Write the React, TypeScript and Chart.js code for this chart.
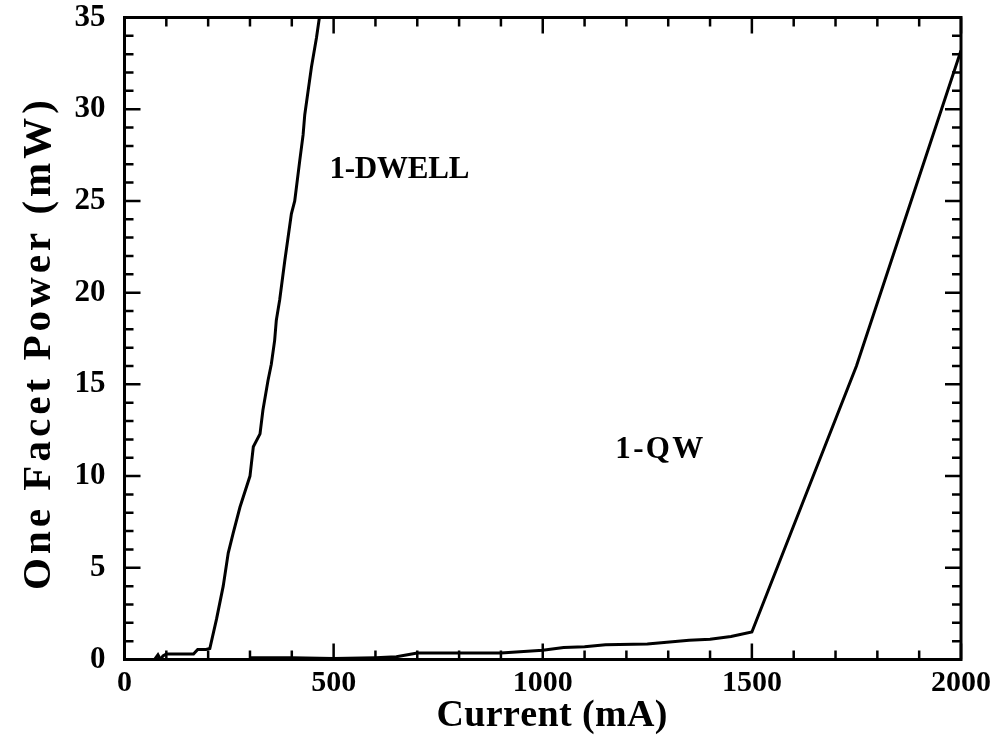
import React, { useEffect, useRef } from "react";
import { Chart, registerables } from "chart.js";

Chart.register(...registerables);

// ---- data ----
const dwellCurrent = [72, 80, 86, 92, 100, 165, 175, 195, 204, 220, 236, 248, 260, 276, 300, 308, 324, 331, 343, 351, 359, 363, 371, 383, 399, 407, 419, 427, 431, 447, 459, 466];
const dwellPower = [0, 0.25, 0, 0.2, 0.3, 0.3, 0.55, 0.55, 0.6, 2.2, 4.0, 5.8, 6.9, 8.3, 10.0, 11.6, 12.3, 13.6, 15.2, 16.1, 17.4, 18.5, 19.6, 21.7, 24.3, 25.0, 27.2, 28.6, 29.7, 32.3, 33.9, 35];

const qwCurrent = [300, 400, 500, 600, 650, 700, 800, 900, 1000, 1050, 1100, 1150, 1250, 1350, 1400, 1450, 1500, 1750, 2000];
const qwPower = [0.1, 0.1, 0.05, 0.1, 0.15, 0.35, 0.35, 0.35, 0.5, 0.65, 0.7, 0.8, 0.85, 1.05, 1.1, 1.25, 1.5, 16.0, 33.2];

const xMin = 0, xMax = 2000, xMajorStep = 500, xMinorStep = 100;
const yMin = 0, yMax = 35, yMajorStep = 5, yMinorStep = 1;

const xTitle = "Current (mA)";
const yTitle = "One Facet Power (mW)";
const seriesLabels = ["1-DWELL", "1-QW"];
const labelAnchors = [
  { x: 490, y: 26.7 },
  { x: 1171, y: 11.4 },
];

const FONT = '"Liberation Serif", "Times New Roman", serif';

// draw text centred at (0,0) of current transform, stretched to a total length by spacing letters
function spacedText(ctx: CanvasRenderingContext2D, text: string, length: number) {
  const chars = Array.from(text);
  const widths = chars.map((c) => ctx.measureText(c).width);
  const natural = widths.reduce((s, w) => s + w, 0);
  const gap = chars.length > 1 ? (length - natural) / (chars.length - 1) : 0;
  let x = -length / 2;
  ctx.textAlign = "left";
  chars.forEach((c, i) => {
    ctx.fillText(c, x, 0);
    x += widths[i] + gap;
  });
}

const framePlugin = {
  id: "frame",
  afterDraw(chart: any) {
    const { ctx, chartArea: a, scales } = chart;
    const xs = scales.x, ys = scales.y;
    ctx.save();
    ctx.strokeStyle = "#000";
    ctx.lineWidth = 3;
    ctx.strokeRect(a.left, a.top, a.right - a.left, a.bottom - a.top);
    ctx.lineWidth = 2.5;
    ctx.beginPath();
    for (let v = xMin; v <= xMax; v += xMinorStep) {
      const px = xs.getPixelForValue(v);
      const len = v % xMajorStep === 0 ? 16 : 9;
      ctx.moveTo(px, a.bottom);
      ctx.lineTo(px, a.bottom - len);
      ctx.moveTo(px, a.top);
      ctx.lineTo(px, a.top + len);
    }
    for (let v = yMin; v <= yMax; v += yMinorStep) {
      const py = ys.getPixelForValue(v);
      const len = v % yMajorStep === 0 ? 16 : 9;
      ctx.moveTo(a.left, py);
      ctx.lineTo(a.left + len, py);
      ctx.moveTo(a.right, py);
      ctx.lineTo(a.right - len, py);
    }
    ctx.stroke();

    // series labels
    ctx.fillStyle = "#000";
    ctx.font = `bold 31px ${FONT}`;
    ctx.textBaseline = "middle";
    ctx.save();
    ctx.translate(xs.getPixelForValue(labelAnchors[0].x) + 70, ys.getPixelForValue(labelAnchors[0].y));
    spacedText(ctx, seriesLabels[0], 140);
    ctx.restore();
    ctx.save();
    ctx.translate(xs.getPixelForValue(labelAnchors[1].x) + 45, ys.getPixelForValue(labelAnchors[1].y));
    spacedText(ctx, seriesLabels[1], 88);
    ctx.restore();

    // axis titles
    ctx.font = `bold 38px ${FONT}`;
    ctx.textBaseline = "middle";
    ctx.save();
    ctx.translate(552, 716);
    spacedText(ctx, xTitle, 231);
    ctx.restore();
    ctx.font = `bold 41px ${FONT}`;
    ctx.save();
    ctx.translate(39, 345);
    ctx.rotate(-Math.PI / 2);
    spacedText(ctx, yTitle, 490);
    ctx.restore();
    ctx.restore();
  },
};

export default function App() {
  const ref = useRef<HTMLCanvasElement>(null);
  useEffect(() => {
    if (!ref.current) return;
    const mk = (xs: number[], ys: number[]) => xs.map((x, i) => ({ x, y: ys[i] }));
    const chart = new Chart(ref.current, {
      type: "line",
      data: {
        datasets: [
          {
            label: seriesLabels[0],
            data: mk(dwellCurrent, dwellPower),
            borderColor: "#000",
            borderWidth: 3,
            pointRadius: 0,
            tension: 0,
            fill: false,
          },
          {
            label: seriesLabels[1],
            data: mk(qwCurrent, qwPower),
            borderColor: "#000",
            borderWidth: 3,
            pointRadius: 0,
            tension: 0,
            fill: false,
          },
        ],
      },
      options: {
        animation: false,
        responsive: false,
        events: [],
        layout: { padding: { top: 0, right: 38, left: 0, bottom: 0 } },
        plugins: { legend: { display: false }, tooltip: { enabled: false }, title: { display: false } },
        scales: {
          x: {
            type: "linear",
            min: xMin,
            max: xMax,
            border: { display: false },
            grid: { display: false, drawTicks: false },
            ticks: {
              stepSize: xMajorStep,
              color: "#000",
              padding: 6,
              maxRotation: 0,
              callback: (v: any) => String(v),
              font: { family: FONT, size: 30, weight: "bold" },
            },
            afterFit: (s: any) => {
              s.height = 736 - 659.5;
              s.paddingLeft = 0;
              s.paddingRight = 0;
            },
          },
          y: {
            type: "linear",
            min: yMin,
            max: yMax,
            border: { display: false },
            grid: { display: false, drawTicks: false },
            ticks: {
              stepSize: yMajorStep,
              color: "#000",
              padding: 19,
              callback: (v: any) => String(v),
              font: { family: FONT, size: 31, weight: "bold" },
            },
            afterFit: (s: any) => {
              s.width = 124.5;
              s.paddingTop = 17.5;
              s.paddingBottom = 0;
            },
          },
        },
      },
      plugins: [framePlugin],
    });
    return () => chart.destroy();
  }, []);
  return (
    <canvas
      ref={ref}
      width={999}
      height={736}
      style={{ position: "fixed", left: 0, top: 0, width: 999, height: 736, display: "block", background: "#fff" }}
    />
  );
}
